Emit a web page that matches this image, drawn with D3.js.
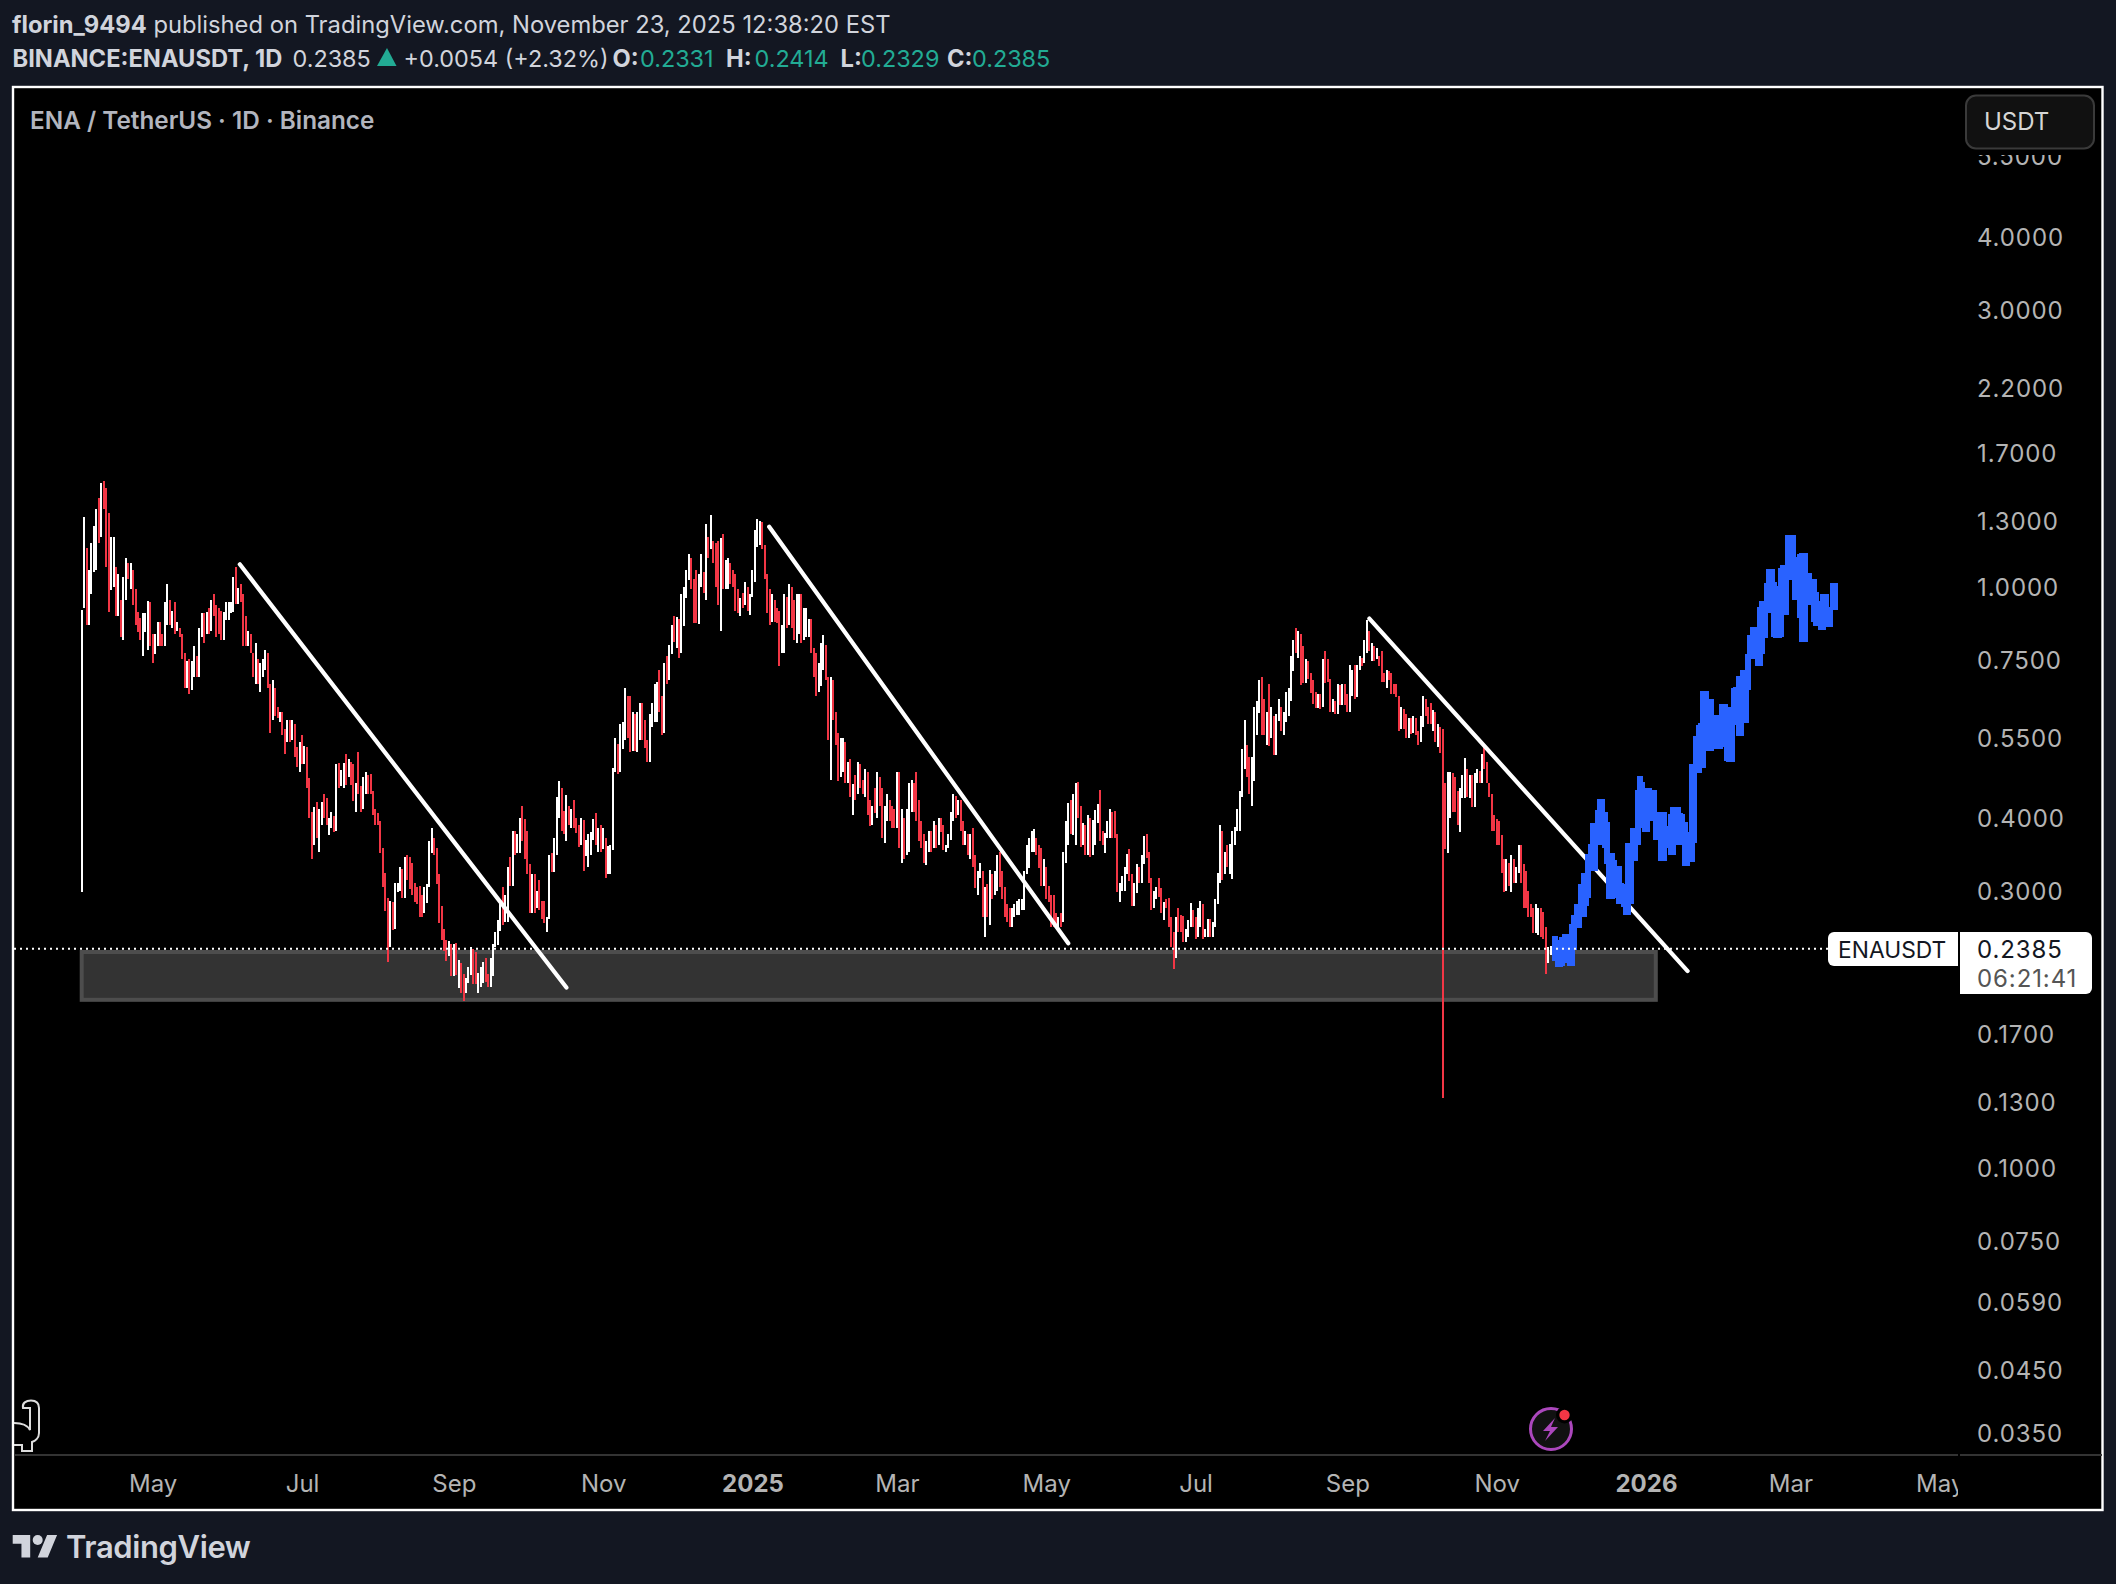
<!DOCTYPE html>
<html>
<head>
<meta charset="utf-8">
<script src="https://cdn.jsdelivr.net/npm/d3@7"></script>
<style>
  html, body { margin: 0; padding: 0; background: #131722; }
  svg { display: block; }
  text { font-family: Inter, sans-serif; }
</style>
</head>
<body>
<svg id="chart" width="2116" height="1584"></svg>
<script>
// candle rows: [high, low, close], open is the previous close
const firstOpen = 0.703;
const candlesApr24 = [[.912,.299,.912],[1.32,.92,1.167],[1.167,.86,.91],[1.07,.86,1.07],[1.19,.97,1.19],[1.27,1.06,1.22],[1.36,1.07,1.28],[1.42,1.19,1.19],[1.51,1.22,1.45],[1.52,1.36,1.36],[1.48,1.08,1.08],[1.34,.905,.905],[1.22,.989,1.0],[1.22,1.0,1.02],[1.08,.89,.89],[1.05,.89,.905],[.95,.82,.82],[1.04,.81,1.04],[1.12,.95,1.10],[1.10,1.03,1.03],[1.10,.99,1.08],[1.07,.93,.93],[.99,.86,.86],[.905,.835,.84],[.885,.81,.82],[.90,.76,.87],[.90,.835,.88],[.945,.78,.93],[.94,.79,.80]];
const candlesMay24 = [[.83,.74,.75],[.83,.766,.80],[.87,.79,.86],[.87,.79,.80],[.83,.79,.79],[.94,.79,.89],[1.01,.86,.94],[.95,.86,.89],[.91,.85,.90],[.94,.83,.84],[.87,.84,.845],[.85,.82,.825],[.83,.75,.76],[.77,.67,.68],[.745,.67,.72],[.75,.655,.665],[.745,.665,.745],[.79,.70,.76],[.76,.70,.71],[.85,.70,.83],[.90,.82,.86],[.90,.80,.83],[.905,.83,.87],[.92,.83,.84],[.95,.84,.92],[.97,.89,.91],[.93,.82,.86],[.92,.83,.85],[.91,.81,.84],[.905,.81,.89],[.94,.875,.925]];
const candlesJun24 = [[.94,.875,.93],[.94,.90,.935],[1.04,.905,1.0],[1.08,.935,.94],[.996,.935,.98],[1.01,.94,.94],[.97,.79,.80],[.89,.79,.795],[.84,.79,.82],[.83,.77,.77],[.77,.70,.70],[.80,.68,.75],[.75,.68,.70],[.74,.66,.72],[.75,.70,.74],[.78,.72,.76],[.77,.67,.68],[.68,.56,.59],[.69,.59,.65],[.67,.60,.605],[.62,.595,.60],[.61,.585,.603],[.61,.556,.56],[.57,.515,.54],[.59,.54,.58],[.59,.54,.55],[.59,.545,.58],[.58,.51,.52],[.53,.49,.50],[.54,.48,.53]];
const candlesJul24 = [[.555,.495,.50],[.533,.495,.53],[.53,.45,.46],[.468,.40,.41],[.41,.34,.36],[.418,.36,.405],[.427,.37,.375],[.415,.35,.41],[.426,.39,.42],[.44,.40,.41],[.434,.39,.395],[.40,.374,.397],[.41,.385,.40],[.404,.378,.38],[.496,.38,.48],[.498,.45,.455],[.484,.455,.46],[.498,.45,.49],[.515,.456,.47],[.506,.47,.50],[.50,.457,.46],[.495,.428,.44],[.46,.41,.45],[.52,.44,.445],[.455,.41,.415],[.47,.415,.46],[.48,.44,.475],[.475,.44,.445],[.477,.44,.44],[.446,.405,.41],[.415,.39,.395]];
const candlesAug24 = [[.408,.39,.39],[.396,.348,.355],[.355,.305,.31],[.322,.277,.28],[.292,.226,.24],[.288,.24,.28],[.287,.257,.26],[.31,.258,.30],[.31,.298,.305],[.33,.30,.32],[.327,.292,.295],[.343,.292,.34],[.346,.313,.32],[.343,.302,.31],[.335,.295,.30],[.31,.287,.29],[.305,.285,.287],[.306,.27,.285],[.295,.27,.275],[.305,.275,.30],[.308,.286,.305],[.365,.305,.36],[.385,.348,.37],[.37,.345,.35],[.355,.308,.31],[.32,.264,.27],[.283,.247,.25],[.258,.236,.24],[.247,.227,.235],[.246,.232,.24],[.243,.214,.235]];
const candlesSep24 = [[.243,.214,.238],[.244,.215,.218],[.228,.204,.22],[.225,.200,.205],[.216,.194,.20],[.212,.20,.21],[.222,.208,.215],[.24,.215,.235],[.238,.207,.21],[.235,.207,.208],[.217,.20,.214],[.222,.205,.218],[.226,.208,.22],[.23,.209,.21],[.216,.205,.206],[.23,.205,.228],[.243,.214,.243],[.255,.24,.25],[.267,.242,.265],[.288,.256,.28],[.304,.262,.27],[.295,.265,.29],[.33,.265,.32],[.343,.306,.31],[.38,.306,.37],[.38,.346,.35],[.376,.348,.37],[.40,.348,.39],[.42,.365,.37],[.398,.34,.35]];
const candlesOct24 = [[.38,.32,.325],[.333,.275,.28],[.32,.275,.31],[.32,.275,.28],[.30,.28,.295],[.313,.278,.28],[.288,.268,.27],[.288,.264,.265],[.27,.255,.268],[.345,.268,.34],[.348,.323,.33],[.37,.323,.36],[.435,.346,.43],[.463,.40,.455],[.45,.38,.39],[.412,.375,.38],[.438,.365,.42],[.42,.39,.395],[.415,.385,.41],[.43,.385,.39],[.40,.377,.38],[.39,.357,.36],[.40,.36,.395],[.397,.325,.345],[.367,.344,.35],[.375,.33,.37],[.378,.345,.373],[.398,.367,.39],[.408,.36,.365],[.385,.35,.38],[.39,.35,.355]];
const candlesNov24 = [[.384,.354,.36],[.37,.316,.32],[.358,.32,.33],[.36,.32,.35],[.488,.352,.48],[.55,.48,.52],[.537,.476,.48],[.58,.48,.57],[.585,.525,.575],[.67,.544,.65],[.65,.55,.56],[.65,.52,.53],[.61,.522,.56],[.605,.522,.55],[.61,.52,.60],[.63,.545,.605],[.63,.545,.59],[.59,.528,.53],[.544,.50,.51],[.605,.50,.60],[.63,.575,.62],[.68,.585,.66],[.685,.585,.67],[.72,.61,.63],[.65,.555,.56],[.74,.56,.72],[.76,.68,.69],[.795,.69,.78],[.86,.765,.84],[.89,.805,.81]];
const candlesDec24 = [[.887,.785,.88],[.88,.755,.77],[.97,.77,.96],[1.00,.855,.97],[1.07,.955,1.06],[1.14,1.028,1.12],[1.12,.99,1.0],[1.033,.865,.88],[1.07,.865,.87],[1.05,.862,1.0],[1.14,1.0,1.05],[1.06,.975,.98],[1.28,.95,1.22],[1.22,1.12,1.16],[1.33,1.16,1.17],[1.20,1.10,1.11],[1.19,1.00,1.02],[1.20,.93,.96],[1.215,.84,1.20],[1.23,.99,1.0],[1.11,.99,1.08],[1.12,.99,1.09],[1.10,1.01,1.03],[1.07,1.0,1.01],[1.05,.91,.92],[.99,.90,.905],[.955,.89,.94],[.975,.92,.93],[1.02,.93,1.0],[1.0,.91,.915],[.97,.895,.96]];
const candlesJan25 = [[1.07,.96,1.05],[1.25,1.02,1.2],[1.31,1.17,1.28],[1.30,1.18,1.29],[1.29,1.16,1.17],[1.18,1.03,1.04],[1.05,.90,.91],[.99,.86,.87],[.97,.87,.95],[.95,.87,.88],[.92,.865,.87],[.91,.73,.77],[.86,.77,.83],[.97,.77,.94],[.96,.85,.86],[1.01,.86,.98],[1.0,.85,.86],[.95,.81,.83],[.97,.80,.95],[.97,.83,.96],[.97,.80,.81],[.92,.81,.82],[.92,.82,.85],[.88,.82,.87],[.88,.77,.78],[.786,.70,.71],[.77,.65,.66],[.74,.66,.72],[.80,.675,.78],[.825,.72,.79],[.795,.69,.70]];
const candlesFeb25 = [[.70,.544,.55],[.70,.465,.68],[.69,.59,.60],[.61,.535,.54],[.56,.463,.47],[.55,.47,.54],[.55,.48,.545],[.54,.46,.47],[.50,.46,.49],[.505,.435,.44],[.458,.405,.45],[.475,.43,.44],[.50,.44,.48],[.495,.45,.46],[.465,.44,.445],[.485,.435,.48],[.48,.405,.41],[.43,.388,.395],[.42,.39,.41],[.45,.41,.405],[.48,.40,.435],[.47,.42,.43],[.45,.37,.375],[.42,.363,.415],[.44,.396,.43],[.43,.395,.40],[.42,.385,.39],[.415,.385,.385]];
const candlesMar25 = [[.48,.384,.47],[.48,.355,.36],[.415,.335,.40],[.40,.34,.345],[.415,.345,.41],[.46,.35,.45],[.465,.41,.46],[.46,.41,.415],[.48,.395,.40],[.43,.365,.37],[.395,.355,.36],[.375,.335,.34],[.366,.332,.36],[.38,.35,.375],[.38,.35,.355],[.395,.355,.39],[.39,.355,.36],[.40,.36,.395],[.40,.378,.38],[.39,.352,.355],[.36,.35,.358],[.376,.355,.37],[.41,.367,.40],[.44,.395,.43],[.436,.40,.41],[.43,.405,.425],[.43,.38,.385],[.395,.36,.365],[.38,.36,.375],[.375,.345,.35],[.375,.34,.365]];
const candlesApr25 = [[.385,.33,.335],[.345,.303,.31],[.325,.295,.32],[.335,.315,.325],[.325,.27,.275],[.305,.25,.30],[.308,.27,.275],[.326,.262,.32],[.32,.29,.295],[.325,.295,.32],[.345,.30,.33],[.35,.305,.31],[.325,.29,.295],[.305,.27,.275],[.285,.265,.27],[.28,.26,.265],[.28,.26,.275],[.285,.27,.28],[.288,.273,.285],[.29,.273,.287],[.29,.278,.288],[.325,.278,.32],[.36,.32,.355],[.37,.328,.36],[.38,.35,.375],[.383,.35,.38],[.37,.345,.35],[.36,.328,.33],[.355,.306,.31],[.34,.306,.335]];
const candlesMay25 = [[.33,.29,.295],[.306,.287,.29],[.295,.26,.27],[.295,.26,.265],[.275,.26,.262],[.27,.26,.268],[.275,.26,.265],[.35,.265,.34],[.395,.335,.38],[.425,.36,.41],[.43,.375,.39],[.44,.374,.41],[.46,.36,.45],[.462,.40,.41],[.419,.357,.365],[.392,.36,.39],[.39,.345,.35],[.405,.345,.40],[.40,.343,.345],[.397,.345,.39],[.413,.36,.405],[.423,.392,.42],[.447,.365,.37],[.38,.36,.362],[.377,.348,.37],[.395,.37,.39],[.415,.37,.40],[.41,.37,.375],[.412,.37,.372],[.375,.298,.30],[.31,.287,.305]];
const candlesJun25 = [[.318,.30,.315],[.33,.30,.325],[.347,.32,.34],[.354,.312,.32],[.32,.282,.285],[.31,.282,.30],[.334,.297,.33],[.33,.31,.315],[.345,.31,.34],[.372,.333,.365],[.376,.342,.345],[.35,.31,.315],[.315,.278,.28],[.30,.28,.29],[.304,.29,.30],[.316,.293,.295],[.303,.275,.28],[.287,.267,.285],[.29,.28,.282],[.292,.26,.263],[.27,.24,.245],[.255,.22,.23],[.27,.23,.265],[.28,.255,.26],[.273,.255,.257],[.272,.245,.25],[.258,.245,.255],[.267,.25,.26],[.286,.26,.275],[.278,.26,.262]];
const candlesJul25 = [[.27,.248,.25],[.28,.25,.275],[.288,.26,.285],[.285,.248,.25],[.258,.25,.255],[.268,.25,.265],[.268,.25,.252],[.265,.25,.26],[.29,.26,.285],[.322,.285,.315],[.389,.31,.38],[.38,.313,.32],[.35,.32,.345],[.36,.33,.335],[.361,.32,.35],[.38,.314,.375],[.386,.36,.38],[.415,.38,.41],[.445,.38,.44],[.526,.435,.52],[.59,.485,.53],[.535,.47,.48],[.51,.44,.445],[.51,.42,.50],[.62,.464,.60],[.637,.555,.63],[.69,.607,.68],[.70,.556,.60],[.64,.555,.56],[.61,.535,.59],[.68,.533,.55]];
const candlesAug25 = [[.62,.55,.60],[.60,.514,.52],[.605,.514,.60],[.64,.587,.62],[.62,.565,.575],[.61,.556,.60],[.66,.585,.65],[.67,.60,.66],[.76,.637,.74],[.81,.715,.79],[.85,.77,.775],[.84,.755,.82],[.83,.677,.70],[.79,.682,.69],[.75,.683,.73],[.745,.695,.70],[.71,.657,.66],[.69,.628,.635],[.66,.619,.62],[.655,.619,.65],[.655,.617,.62],[.75,.62,.74],[.775,.682,.69],[.75,.686,.688],[.695,.61,.615],[.64,.61,.63],[.637,.605,.61],[.68,.605,.67],[.677,.625,.63],[.68,.625,.67],[.68,.627,.63]];
const candlesSep25 = [[.655,.61,.615],[.735,.61,.72],[.72,.65,.73],[.735,.64,.65],[.735,.645,.72],[.76,.72,.75],[.755,.73,.74],[.81,.74,.80],[.878,.77,.83],[.84,.774,.78],[.80,.746,.79],[.79,.745,.75],[.785,.75,.76],[.76,.73,.735],[.775,.687,.69],[.71,.687,.688],[.72,.67,.71],[.715,.69,.695],[.71,.655,.66],[.68,.655,.658],[.68,.645,.65],[.65,.565,.57],[.62,.57,.60],[.617,.57,.58],[.605,.55,.555],[.595,.55,.585],[.595,.558,.56],[.60,.56,.595],[.595,.556,.56],[.565,.535,.54]];
const candlesOct25 = [[.60,.54,.59],[.65,.575,.64],[.64,.60,.61],[.62,.58,.59],[.63,.58,.585],[.615,.565,.605],[.61,.54,.55],[.58,.53,.57],[.575,.517,.52],[.57,.132,.36],[.46,.354,.358],[.48,.348,.44],[.48,.40,.47],[.478,.41,.42],[.47,.41,.415],[.445,.39,.395],[.45,.378,.44],[.474,.433,.47],[.508,.434,.48],[.485,.435,.44],[.474,.433,.465],[.475,.418,.42],[.478,.418,.47],[.486,.46,.48],[.483,.46,.465],[.515,.46,.51],[.53,.485,.49],[.50,.46,.465],[.46,.435,.44],[.44,.38,.385],[.405,.38,.383]];
const candlesNov25 = [[.398,.36,.365],[.395,.36,.362],[.374,.322,.325],[.34,.298,.30],[.34,.30,.335],[.335,.306,.31],[.345,.298,.34],[.34,.31,.315],[.33,.31,.325],[.36,.322,.355],[.36,.31,.315],[.333,.28,.29],[.325,.28,.285],[.30,.27,.275],[.285,.27,.272],[.28,.254,.255],[.285,.254,.26],[.28,.252,.27],[.28,.25,.255],[.276,.248,.25],[.26,.216,.225],[.24,.225,.2331],[.2414,.2329,.2385]];

const candleMonths = [
  ["2024-04-02", candlesApr24], ["2024-05-01", candlesMay24], ["2024-06-01", candlesJun24],
  ["2024-07-01", candlesJul24], ["2024-08-01", candlesAug24], ["2024-09-01", candlesSep24],
  ["2024-10-01", candlesOct24], ["2024-11-01", candlesNov24], ["2024-12-01", candlesDec24],
  ["2025-01-01", candlesJan25], ["2025-02-01", candlesFeb25], ["2025-03-01", candlesMar25],
  ["2025-04-01", candlesApr25], ["2025-05-01", candlesMay25], ["2025-06-01", candlesJun25],
  ["2025-07-01", candlesJul25], ["2025-08-01", candlesAug25], ["2025-09-01", candlesSep25],
  ["2025-10-01", candlesOct25], ["2025-11-01", candlesNov25]
];

// blue bars pattern drawn on the chart: [high, low]
const patternStart = "2025-11-25";
const patternStepDays = 0.96;
const patternBars = [[.251,.227],[.247,.222],[.247,.222],[.250,.223],[.253,.225],[.253,.225],[.253,.223],[.263,.223],[.273,.237],[.285,.259],[.285,.259],[.308,.270],[.322,.270],[.322,.282],[.347,.292],[.361,.325],[.393,.325],[.393,.325],[.413,.362],[.432,.360],[.432,.360],[.410,.356],[.394,.333],[.349,.290],[.349,.290],[.339,.292],[.331,.294],[.331,.285],[.310,.285],[.308,.281],[.297,.273],[.363,.273],[.363,.285],[.385,.338],[.385,.338],[.447,.360],[.472,.385],[.461,.385],[.450,.379],[.450,.379],[.450,.395],[.447,.395],[.447,.395],[.407,.367],[.410,.367],[.410,.338],[.410,.338],[.388,.356],[.388,.356],[.407,.346],[.418,.346],[.418,.373],[.418,.360],[.409,.360],[.407,.360],[.394,.331],[.378,.331],[.377,.336],[.495,.336],[.495,.362],[.554,.479],[.578,.479],[.582,.488],[.661,.488],[.661,.522],[.641,.522],[.641,.522],[.602,.525],[.602,.525],[.602,.525],[.602,.526],[.628,.544],[.628,.530],[.602,.501],[.620,.499],[.620,.499],[.671,.578],[.672,.578],[.701,.554],[.701,.554],[.719,.583],[.719,.583],[.767,.665],[.826,.751],[.853,.752],[.853,.752],[.853,.730],[.924,.730],[.944,.767],[.944,.815],[1.014,.900],[1.074,.903],[1.074,.900],[1.021,.821],[1.005,.815],[1.005,.815],[1.076,.821],[1.090,.895],[1.090,.895],[1.226,1.027],[1.226,1.027],[1.226,1.027],[1.124,.950],[1.124,.950],[1.138,.885],[1.145,.802],[1.145,.802],[1.057,.929],[1.057,.929],[1.033,.944],[1.033,.871],[.981,.855],[.944,.855],[.931,.841],[.970,.841],[.970,.857],[.924,.852],[.924,.852],[1.014,.913],[1.014,.913]];

// trend lines: [start date, start price, end date, end price]
const trendLines = [
  ["2024-06-05T14:00Z", 1.093, "2024-10-17T00:00Z", 0.2045],
  ["2025-01-07T20:00Z", 1.268, "2025-05-10T00:00Z", 0.2437],
  ["2025-09-10T00:00Z", 0.8816, "2026-01-18T00:00Z", 0.2183]
];

// support zone: [start date, end date, top price, bottom price]
const supportZone = ["2024-04-02T00:00Z", "2026-01-05T00:00Z", 0.2354, 0.1948];

const lastPrice = 0.2385;
const priceTicks = [5.5, 4, 3, 2.2, 1.7, 1.3, 1, 0.75, 0.55, 0.4, 0.3, 0.17, 0.13, 0.1, 0.075, 0.059, 0.045, 0.035];
const timeTicks = ["2024-05-01", "2024-07-01", "2024-09-01", "2024-11-01", "2025-01-01", "2025-03-01", "2025-05-01", "2025-07-01", "2025-09-01", "2025-11-01", "2026-01-01", "2026-03-01", "2026-05-01"];
const timeLabels = ["May", "Jul", "Sep", "Nov", "2025", "Mar", "May", "Jul", "Sep", "Nov", "2026", "Mar", "May"];

const DAY = 86400000;
const svg = d3.select("#chart");

const paneRight = 1958;
const paneBottom = 1455;

const x = d3.scaleUtc()
    .domain([new Date("2024-05-01"), new Date("2026-01-01")])
    .range([152.7, 1646]);
const y = d3.scaleLog()
    .domain([4, 0.035])
    .range([236.7, 1433.3]);

// flatten month rows to candles
const candles = [];
let prevClose = firstOpen;
candleMonths.forEach(([start, rows]) => {
  const t0 = new Date(start).getTime();
  rows.forEach((r, i) => {
    candles.push({ date: new Date(t0 + i * DAY), high: r[0], low: r[1], open: prevClose, close: r[2] });
    prevClose = r[2];
  });
});

// frame
svg.append("rect")
    .attr("x", 13).attr("y", 87)
    .attr("width", 2089.5).attr("height", 1423)
    .attr("fill", "#000").attr("stroke", "#fff").attr("stroke-width", 2.4);

svg.append("defs").append("clipPath").attr("id", "pane")
    .append("rect").attr("x", 14).attr("y", 88).attr("width", paneRight - 14).attr("height", paneBottom - 88);
svg.select("defs").append("clipPath").attr("id", "timePane")
    .append("rect").attr("x", 14).attr("y", paneBottom).attr("width", paneRight - 14).attr("height", 55);

// bottom separator
svg.append("line").attr("x1", 14).attr("x2", paneRight).attr("y1", paneBottom).attr("y2", paneBottom)
    .attr("stroke", "#333").attr("stroke-width", 2);
svg.append("line").attr("x1", paneRight + 2).attr("x2", 2102).attr("y1", paneBottom).attr("y2", paneBottom)
    .attr("stroke", "#333").attr("stroke-width", 2);

const pane = svg.append("g").attr("clip-path", "url(#pane)");

// support zone
pane.append("rect")
    .attr("x", x(new Date(supportZone[0])))
    .attr("y", y(supportZone[2]))
    .attr("width", x(new Date(supportZone[1])) - x(new Date(supportZone[0])))
    .attr("height", y(supportZone[3]) - y(supportZone[2]))
    .attr("fill", "#333333").attr("stroke", "#4d4d4d").attr("stroke-width", 4);

// candles
const candleG = pane.append("g").attr("shape-rendering", "crispEdges");
const candleColor = d => d.close >= d.open ? "#ffffff" : "#f23645";

candleG.selectAll("rect.wick")
  .data(candles)
  .enter().append("rect")
    .attr("class", "wick")
    .attr("x", d => Math.round(x(d.date)) - 1)
    .attr("width", 2)
    .attr("y", d => y(d.high))
    .attr("height", d => y(d.low) - y(d.high))
    .attr("fill", candleColor);

candleG.selectAll("rect.body")
  .data(candles)
  .enter().append("rect")
    .attr("class", "body")
    .attr("x", d => Math.round(x(d.date)) - 1)
    .attr("width", 2)
    .attr("y", d => y(Math.min(d.high, Math.max(d.open, d.close))))
    .attr("height", d => Math.max(1, y(Math.max(d.low, Math.min(d.open, d.close))) - y(Math.min(d.high, Math.max(d.open, d.close)))))
    .attr("fill", candleColor);

// trend lines
pane.selectAll("line.trend")
  .data(trendLines)
  .enter().append("line")
    .attr("class", "trend")
    .attr("x1", d => x(new Date(d[0])))
    .attr("y1", d => y(d[1]))
    .attr("x2", d => x(new Date(d[2])))
    .attr("y2", d => y(d[3]))
    .attr("stroke", "#fff").attr("stroke-width", 4.2).attr("stroke-linecap", "round");

// bars pattern
const patternT0 = new Date(patternStart).getTime();
pane.append("g").attr("shape-rendering", "crispEdges")
  .selectAll("rect")
  .data(patternBars)
  .enter().append("rect")
    .attr("x", (d, i) => x(new Date(patternT0 + i * patternStepDays * DAY)) - 3)
    .attr("width", 6)
    .attr("y", d => y(d[0]))
    .attr("height", d => y(d[1]) - y(d[0]))
    .attr("fill", "#2962ff");

// last price dotted line
pane.append("line")
    .attr("x1", 14).attr("x2", 1830)
    .attr("y1", y(lastPrice)).attr("y2", y(lastPrice))
    .attr("stroke", "#fff").attr("stroke-width", 2).attr("stroke-dasharray", "2 4");

// axes
const yAxis = svg.append("g")
    .attr("transform", "translate(1965,1)")
    .call(d3.axisRight(y).tickValues(priceTicks).tickFormat(d3.format(".4f")).tickSize(0).tickPadding(12));
yAxis.select(".domain").remove();
yAxis.selectAll("text")
    .attr("fill", "#b4b4b4")
    .style("font-family", "Inter, sans-serif").style("font-size", "24px").style("letter-spacing", "0.9px");

const timeDates = timeTicks.map(d => new Date(d));
const xAxis = svg.append("g")
    .attr("clip-path", "url(#timePane)")
  .append("g")
    .attr("transform", `translate(0,${paneBottom})`)
    .call(d3.axisBottom(x).tickValues(timeDates).tickFormat((d, i) => timeLabels[i]).tickSize(0).tickPadding(20));
xAxis.select(".domain").remove();
xAxis.selectAll("text")
    .attr("fill", "#b4b4b4")
    .style("font-family", "Inter, sans-serif").style("font-size", "24px")
    .style("font-weight", (d, i) => /^\d/.test(timeLabels[i]) ? 700 : 400);

// USDT button, its black halo hides the top of the clipped tick
svg.append("rect")
    .attr("x", 1962).attr("y", 90).attr("width", 136).attr("height", 65)
    .attr("fill", "#000");
svg.append("rect")
    .attr("x", 1966).attr("y", 95.5).attr("width", 128).attr("height", 53).attr("rx", 10)
    .attr("fill", "#111").attr("stroke", "#3a3a3a").attr("stroke-width", 2);
svg.append("text").attr("x", 1984).attr("y", 129.5)
    .attr("fill", "#d6d6d6").style("font-size", "24px").text("USDT");

// last price labels
svg.append("path")
    .attr("d", "M1958,932H1834a6,6 0 0 0 -6,6V960a6,6 0 0 0 6,6H1958Z")
    .attr("fill", "#fff");
svg.append("path")
    .attr("d", "M1960,932H2086a6,6 0 0 1 6,6V988a6,6 0 0 1 -6,6H1960Z")
    .attr("fill", "#fff");
svg.append("text").attr("x", 1838).attr("y", 957.5)
    .attr("fill", "#131722").style("font-size", "22.8px").text("ENAUSDT");
svg.append("text").attr("x", 1977).attr("y", 958)
    .attr("fill", "#131722").style("font-size", "24px").style("letter-spacing", "0.9px").text(d3.format(".4f")(lastPrice));
svg.append("text").attr("x", 1977).attr("y", 987)
    .attr("fill", "#555").style("font-size", "24px").style("letter-spacing", "0.9px").text("06:21:41");

// pane legend
svg.append("text").attr("x", 30).attr("y", 128.5)
    .attr("fill", "#b2b5be").style("font-size", "24.3px").style("font-weight", 600)
    .text("ENA / TetherUS · 1D · Binance");

// header
const header1 = svg.append("text").attr("x", 12).attr("y", 33)
    .attr("fill", "#d1d4dc").style("font-size", "23.75px");
header1.append("tspan").style("font-weight", 700).text("florin_9494");
header1.append("tspan").text(" published on TradingView.com, November 23, 2025 12:38:20 EST");

const headerParts = [
  [12.5, "BINANCE:ENAUSDT, 1D", "#d1d4dc", 700],
  [292.5, "0.2385", "#d1d4dc", 400],
  [403.5, "+0.0054 (+2.32%)", "#d1d4dc", 400],
  [612.5, "O:", "#d1d4dc", 700],
  [640, "0.2331", "#22ab94", 400],
  [726, "H:", "#d1d4dc", 700],
  [754.5, "0.2414", "#22ab94", 400],
  [840.5, "L:", "#d1d4dc", 700],
  [861, "0.2329", "#22ab94", 400],
  [947, "C:", "#d1d4dc", 700],
  [972, "0.2385", "#22ab94", 400]
];
svg.selectAll("text.head2")
  .data(headerParts)
  .enter().append("text")
    .attr("class", "head2")
    .attr("x", d => d[0]).attr("y", 66.5)
    .attr("fill", d => d[2]).style("font-size", d => d[3] === 700 ? "23.7px" : "23.4px").style("font-weight", d => d[3])
    .text(d => d[1]);
svg.append("path").attr("d", "M387,48L396.5,66H377Z").attr("fill", "#22ab94");

// hand icon in the corner
svg.append("path")
    .attr("d", "M14,1423C22,1423 28,1426 30,1430V1408H23C22,1403 26,1400.5 31,1400.5C36,1400.5 39,1403 39,1408V1433C39,1438 35,1441 32,1442V1451H22V1445H14")
    .attr("fill", "none").attr("stroke", "#ddd").attr("stroke-width", 2);

// lightning badge
svg.append("circle").attr("cx", 1551).attr("cy", 1429).attr("r", 20.5)
    .attr("fill", "#111").attr("stroke", "#ab47bc").attr("stroke-width", 3);
svg.append("path").attr("d", "M1555,1418L1543,1431H1550L1545,1441L1558,1427H1551Z").attr("fill", "#ab47bc");
svg.append("circle").attr("cx", 1564.5).attr("cy", 1415).attr("r", 8.5).attr("fill", "#000");
svg.append("circle").attr("cx", 1564.5).attr("cy", 1415).attr("r", 5.2).attr("fill", "#f23645");

// logo
const logo = svg.append("g").attr("transform", "translate(12.7,1530) scale(1.25)").attr("fill", "#d1d4dc");
logo.append("path").attr("d", "M14 22H7V11H0V4h14v18zM28 22h-8l7.5-18h8L28 22z");
logo.append("circle").attr("cx", 20).attr("cy", 8).attr("r", 4);
svg.append("text").attr("x", 66).attr("y", 1558)
    .attr("fill", "#d1d4dc").style("font-size", "31px").style("font-weight", 600).style("letter-spacing", "-0.4px").text("TradingView");
</script>
</body>
</html>
